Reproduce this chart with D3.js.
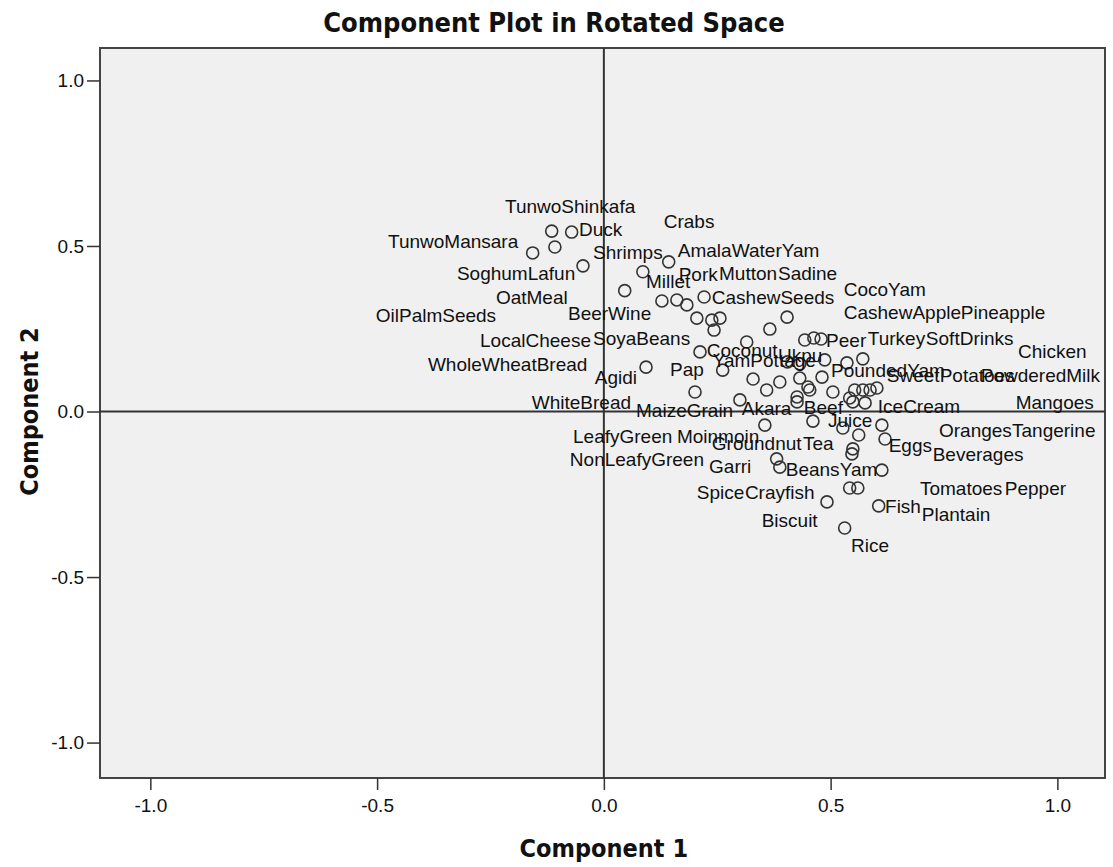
<!DOCTYPE html>
<html>
<head>
<meta charset="utf-8">
<script src="https://cdn.jsdelivr.net/npm/d3@7"></script>
<style>
  body { margin: 0; background: #fff; }
  text { font-family: "Liberation Sans", Arial, sans-serif; fill: #111; }
</style>
</head>
<body>
<div id="chart"></div>
<script>
// loadings (component 1, component 2)
var comp1 = [-0.115,-0.071,-0.157,-0.108,-0.046,0.086,0.046,0.143,0.128,0.161,
             0.183,0.221,0.205,0.238,0.256,0.243,0.404,0.366,0.315,0.212,
             0.093,0.262,0.443,0.463,0.479,0.487,0.536,0.571,0.432,0.481,
             0.450,0.454,0.329,0.388,0.359,0.505,0.553,0.571,0.587,0.602,
             0.542,0.549,0.576,0.201,0.300,0.426,0.426,0.461,0.355,0.613,
             0.527,0.562,0.620,0.549,0.547,0.381,0.388,0.613,0.542,0.560,
             0.492,0.606,0.531,0.432,0.405];
var comp2 = [0.545,0.542,0.479,0.497,0.440,0.422,0.365,0.452,0.334,0.337,
             0.322,0.346,0.282,0.276,0.282,0.246,0.285,0.249,0.210,0.180,
             0.134,0.125,0.216,0.222,0.219,0.156,0.147,0.159,0.101,0.104,
             0.074,0.065,0.098,0.089,0.065,0.059,0.065,0.065,0.065,0.071,
             0.041,0.029,0.026,0.059,0.035,0.044,0.029,-0.029,-0.041,-0.041,
             -0.050,-0.071,-0.083,-0.113,-0.128,-0.143,-0.168,-0.177,-0.231,-0.231,
             -0.273,-0.285,-0.352,0.144,0.150];

// variable labels and where the label text sits (data units)
var labelNames = ["TunwoShinkafa","Duck","TunwoMansara","Shrimps","SoghumLafun","Crabs",
  "Amala","WaterYam","Pork","Millet","Mutton","Sadine","OatMeal","CashewSeeds","CocoYam",
  "OilPalmSeeds","Beer","Wine","CashewApple","Pineapple","LocalCheese","SoyaBeans","Peer",
  "Turkey","SoftDrinks","Chicken","Coconut","Ukpu","YamPottage","WholeWheatBread","Pap",
  "PoundedYam","SweetPotatoes","PowderedMilk","Agidi","WhiteBread","Mangoes","Akara","Beef",
  "IceCream","MaizeGrain","Juice","Oranges","Tangerine","LeafyGreen","Moinmoin","Groundnut",
  "Tea","Eggs","Beverages","NonLeafyGreen","Garri","Beans","Yam","Tomatoes","Pepper","Spice",
  "Crayfish","Fish","Plantain","Biscuit","Rice"];
var labelX = [-0.218,-0.055,-0.476,-0.024,-0.324,0.132,
  0.163,0.282,0.165,0.093,0.254,0.384,-0.238,0.238,0.529,
  -0.503,-0.079,0.009,0.529,0.787,-0.273,-0.024,0.490,
  0.582,0.710,0.913,0.227,0.384,0.240,-0.388,0.146,
  0.501,0.624,0.831,-0.020,-0.159,0.908,0.304,0.441,
  0.604,0.071,0.494,0.739,0.900,-0.068,0.161,0.238,
  0.439,0.628,0.725,-0.075,0.232,0.401,0.520,0.697,0.884,0.205,
  0.311,0.620,0.701,0.348,0.545];
var labelY = [0.600,0.530,0.494,0.461,0.397,0.554,
  0.467,0.467,0.394,0.373,0.397,0.397,0.325,0.325,0.349,
  0.270,0.276,0.276,0.279,0.279,0.196,0.201,0.196,
  0.201,0.201,0.162,0.165,0.150,0.134,0.122,0.107,
  0.104,0.089,0.089,0.083,0.008,0.008,-0.011,-0.008,
  -0.005,-0.017,-0.047,-0.077,-0.077,-0.095,-0.095,-0.116,
  -0.116,-0.122,-0.150,-0.165,-0.186,-0.195,-0.195,-0.252,-0.252,-0.264,
  -0.264,-0.307,-0.331,-0.349,-0.424];

var tickVals = [-1.0, -0.5, 0.0, 0.5, 1.0];

var W = 1113, H = 867;
var margin = {top: 48, right: 8, bottom: 89, left: 100},
    width = W - margin.left - margin.right,
    height = H - margin.top - margin.bottom;

var x = d3.scaleLinear().domain([-1.111, 1.105]).range([0, width]);
var y = d3.scaleLinear().domain([-1.107, 1.098]).range([height, 0]);

var fmt = function(d) { return d3.format(".1f")(d).replace("\u2212", "-"); };
var narrow = "'Liberation Sans Narrow', 'DejaVu Sans Condensed', sans-serif";

var svg = d3.select("#chart").append("svg")
    .attr("width", W)
    .attr("height", H);

svg.append("text")
    .attr("x", 554)
    .attr("y", 32)
    .attr("text-anchor", "middle")
    .style("font-family", narrow)
    .style("font-weight", "bold")
    .style("font-size", "27px")
    .text("Component Plot in Rotated Space");

var g = svg.append("g")
    .attr("transform", "translate(" + margin.left + "," + margin.top + ")");

g.append("rect")
    .attr("width", width)
    .attr("height", height)
    .attr("fill", "#f0f0f0")
    .attr("stroke", "#444")
    .attr("stroke-width", 2);

// reference lines at zero
g.append("line")
    .attr("x1", x(0)).attr("x2", x(0))
    .attr("y1", 0).attr("y2", height)
    .attr("stroke", "#333").attr("stroke-width", 2);
g.append("line")
    .attr("x1", 0).attr("x2", width)
    .attr("y1", y(0)).attr("y2", y(0))
    .attr("stroke", "#333").attr("stroke-width", 2);

var xAxis = d3.axisBottom(x).tickValues(tickVals).tickFormat(fmt).tickSizeOuter(0).tickSize(12).tickPadding(9);
var yAxis = d3.axisLeft(y).tickValues(tickVals).tickFormat(fmt).tickSizeOuter(0).tickSize(13).tickPadding(3);

var gx = g.append("g")
    .attr("transform", "translate(0," + height + ")")
    .call(xAxis);
var gy = g.append("g").call(yAxis);

[gx, gy].forEach(function(ax) {
  ax.select(".domain").remove();
  ax.selectAll(".tick line").attr("stroke", "#333").attr("stroke-width", 1.5);
  ax.selectAll(".tick text")
    .style("font-family", "'Liberation Sans', Arial, sans-serif")
    .style("font-size", "19px")
    .attr("fill", "#111");
});

var points = comp1.map(function(d, i) { return {c1: d, c2: comp2[i]}; });

g.selectAll("circle.pt")
    .data(points)
  .enter().append("circle")
    .attr("class", "pt")
    .attr("cx", function(d) { return x(d.c1); })
    .attr("cy", function(d) { return y(d.c2); })
    .attr("r", 6)
    .attr("fill", "none")
    .attr("stroke", "#333")
    .attr("stroke-width", 1.6);

var labels = labelNames.map(function(n, i) { return {name: n, lx: labelX[i], ly: labelY[i]}; });

g.selectAll("text.lab")
    .data(labels)
  .enter().append("text")
    .attr("class", "lab")
    .attr("x", function(d) { return x(d.lx); })
    .attr("y", function(d) { return y(d.ly); })
    .style("font-size", "19px")
    .text(function(d) { return d.name; });

svg.append("text")
    .attr("x", margin.left + x(0))
    .attr("y", 857)
    .attr("text-anchor", "middle")
    .style("font-family", narrow)
    .style("font-weight", "bold")
    .style("font-size", "25px")
    .text("Component 1");

svg.append("text")
    .attr("transform", "translate(38," + (margin.top + y(0)) + ") rotate(-90)")
    .attr("text-anchor", "middle")
    .style("font-family", narrow)
    .style("font-weight", "bold")
    .style("font-size", "25px")
    .text("Component 2");
</script>
</body>
</html>
